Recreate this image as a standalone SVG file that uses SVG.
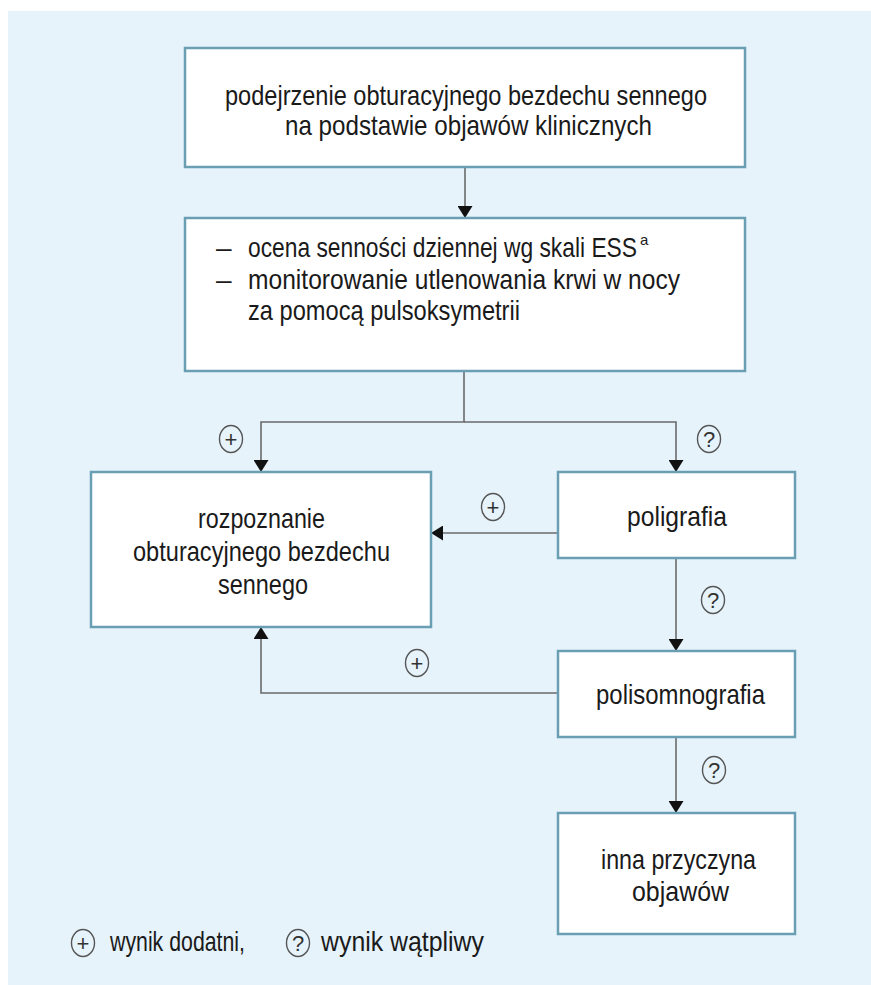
<svg xmlns="http://www.w3.org/2000/svg" width="871" height="985" viewBox="0 0 871 985">
<defs>
<style>
.box{fill:#ffffff;stroke:#6a9fb3;stroke-width:2.5}
.t{font-family:"Liberation Sans",Arial,sans-serif;font-size:28px;fill:#1a1a1a}
.ln{fill:none;stroke:#6b6b6b;stroke-width:1.6}
.lc{fill:none;stroke:#555;stroke-width:1.4}
.ls{font-family:"Liberation Sans",Arial,sans-serif;font-size:22px;fill:#333;text-anchor:middle}
</style>
<marker id="ah" viewBox="0 0 12 15" refX="12" refY="7.5" markerWidth="12" markerHeight="15" markerUnits="userSpaceOnUse" orient="auto">
<path d="M0,0 L12,7.5 L0,15 Z" fill="#111"/>
</marker>
</defs>
<rect x="0" y="0" width="871" height="985" fill="#ffffff"/>
<rect x="8" y="11" width="863" height="974" fill="#e6f3fb"/>

<g id="connectors">
<path class="ln" d="M465,167 V218" marker-end="url(#ah)"/>
<path class="ln" d="M464,371 V422 H261 V472" marker-end="url(#ah)"/>
<path class="ln" d="M464,422 H676 V472" marker-end="url(#ah)"/>
<path class="ln" d="M558,533 H431" marker-end="url(#ah)"/>
<path class="ln" d="M676,558 V651" marker-end="url(#ah)"/>
<path class="ln" d="M558,693 H261 V627" marker-end="url(#ah)"/>
<path class="ln" d="M676,737 V813" marker-end="url(#ah)"/>
<g id="labels">
<ellipse class="lc" cx="231" cy="439" rx="11.5" ry="13.5"/><text class="ls" x="231" y="447">+</text>
<ellipse class="lc" cx="709" cy="439" rx="11.5" ry="13.5"/><text class="ls" x="709" y="447">?</text>
<ellipse class="lc" cx="493" cy="507" rx="11.5" ry="13.5"/><text class="ls" x="493" y="515">+</text>
<ellipse class="lc" cx="713" cy="600" rx="11.5" ry="13.5"/><text class="ls" x="713" y="608">?</text>
<ellipse class="lc" cx="417" cy="663" rx="11.5" ry="13.5"/><text class="ls" x="417" y="671">+</text>
<ellipse class="lc" cx="714" cy="770" rx="11.5" ry="13.5"/><text class="ls" x="714" y="778">?</text>
</g>
</g>

<g id="n1">
<rect class="box" x="185" y="48" width="560" height="119"/>
<text class="t" x="225" y="105" textLength="482" lengthAdjust="spacingAndGlyphs">podejrzenie obturacyjnego bezdechu sennego</text>
<text class="t" x="285" y="135" textLength="367" lengthAdjust="spacingAndGlyphs">na podstawie objawów klinicznych</text>
</g>

<g id="n2">
<rect class="box" x="185" y="218" width="560" height="153"/>
<text class="t" x="216" y="257">–</text>
<text class="t" x="248" y="257"><tspan textLength="389" lengthAdjust="spacingAndGlyphs">ocena senności dziennej wg skali ESS</tspan><tspan dx="3" dy="-12" style="font-size:15px">a</tspan></text>
<text class="t" x="216" y="289">–</text>
<text class="t" x="248" y="289" textLength="432" lengthAdjust="spacingAndGlyphs">monitorowanie utlenowania krwi w nocy</text>
<text class="t" x="248" y="320" textLength="272" lengthAdjust="spacingAndGlyphs">za pomocą pulsoksymetrii</text>
</g>

<g id="n3">
<rect class="box" x="91" y="472" width="340" height="155"/>
<text class="t" x="198" y="528" textLength="127" lengthAdjust="spacingAndGlyphs">rozpoznanie</text>
<text class="t" x="133" y="561" textLength="257" lengthAdjust="spacingAndGlyphs">obturacyjnego bezdechu</text>
<text class="t" x="218" y="594" textLength="90" lengthAdjust="spacingAndGlyphs">sennego</text>
</g>

<g id="n4">
<rect class="box" x="558" y="472" width="237" height="86"/>
<text class="t" x="627" y="526" textLength="100" lengthAdjust="spacingAndGlyphs">poligrafia</text>
</g>

<g id="n5">
<rect class="box" x="558" y="651" width="237" height="86"/>
<text class="t" x="596" y="704" textLength="169" lengthAdjust="spacingAndGlyphs">polisomnografia</text>
</g>

<g id="n6">
<rect class="box" x="558" y="813" width="237" height="121"/>
<text class="t" x="601" y="869" textLength="155" lengthAdjust="spacingAndGlyphs">inna przyczyna</text>
<text class="t" x="632" y="901" textLength="97" lengthAdjust="spacingAndGlyphs">objawów</text>
</g>

<g id="legend">
<ellipse class="lc" cx="83" cy="943" rx="11.5" ry="13.5"/><text class="ls" x="83" y="951">+</text>
<text class="t" x="110" y="951" textLength="135" lengthAdjust="spacingAndGlyphs">wynik dodatni,</text>
<ellipse class="lc" cx="298" cy="943" rx="11.5" ry="13.5"/><text class="ls" x="298" y="951">?</text>
<text class="t" x="321" y="951" textLength="163" lengthAdjust="spacingAndGlyphs">wynik wątpliwy</text>
</g>
</svg>
